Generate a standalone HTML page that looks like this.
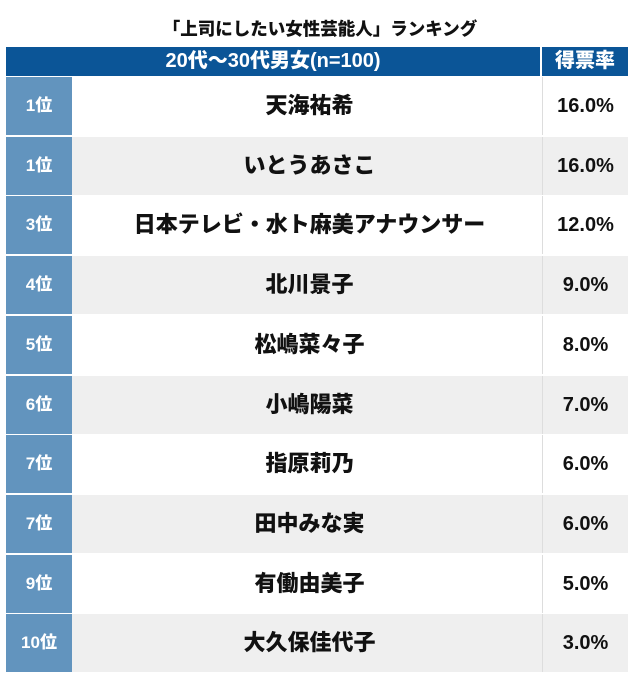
<!DOCTYPE html>
<html><head><meta charset="utf-8"><style>
*{margin:0;padding:0;box-sizing:border-box}
body{width:640px;height:697px;background:#fff;font-family:"Liberation Sans","Noto Sans CJK JP",sans-serif;font-weight:bold;position:relative;overflow:hidden}
.t{position:absolute;top:16px;left:0;width:640px;text-align:center;font-size:17.5px;color:#111;font-weight:900}
.h{position:absolute;top:47px;height:29px;background:#0b5597;color:#fff;font-size:20px;line-height:29px;text-align:center;font-weight:900}
.r{position:absolute;left:6px;width:622px;height:58px}
.r div{position:absolute;top:0;height:58px;line-height:58px;text-align:center;font-weight:900}
.k{left:0;width:66px;background:#6294be;color:#fff;font-size:17px}
.n{left:66px;width:475px;font-size:22px;color:#111}
.p{left:536px;width:86px;font-size:20px;color:#111;border-left:1px solid #ddd}
.g{background:#efefef}
</style></head><body>
<div class="t">「上司にしたい女性芸能人」ランキング</div>
<div class="h" style="left:6px;width:534px">20代〜30代男女(n=100)</div>
<div class="h" style="left:542px;width:86px">得票率</div>
<div class="r" style="top:77px"><div class="k">1位</div><div class="n">天海祐希</div><div class="p">16.0%</div></div>
<div class="r g" style="top:136.7px"><div class="k">1位</div><div class="n">いとうあさこ</div><div class="p">16.0%</div></div>
<div class="r" style="top:196.4px"><div class="k">3位</div><div class="n">日本テレビ・水ト麻美アナウンサー</div><div class="p">12.0%</div></div>
<div class="r g" style="top:256.1px"><div class="k">4位</div><div class="n">北川景子</div><div class="p">9.0%</div></div>
<div class="r" style="top:315.8px"><div class="k">5位</div><div class="n">松嶋菜々子</div><div class="p">8.0%</div></div>
<div class="r g" style="top:375.5px"><div class="k">6位</div><div class="n">小嶋陽菜</div><div class="p">7.0%</div></div>
<div class="r" style="top:435.2px"><div class="k">7位</div><div class="n">指原莉乃</div><div class="p">6.0%</div></div>
<div class="r g" style="top:494.9px"><div class="k">7位</div><div class="n">田中みな実</div><div class="p">6.0%</div></div>
<div class="r" style="top:554.6px"><div class="k">9位</div><div class="n">有働由美子</div><div class="p">5.0%</div></div>
<div class="r g" style="top:614.3px"><div class="k">10位</div><div class="n">大久保佳代子</div><div class="p">3.0%</div></div>
</body></html>
